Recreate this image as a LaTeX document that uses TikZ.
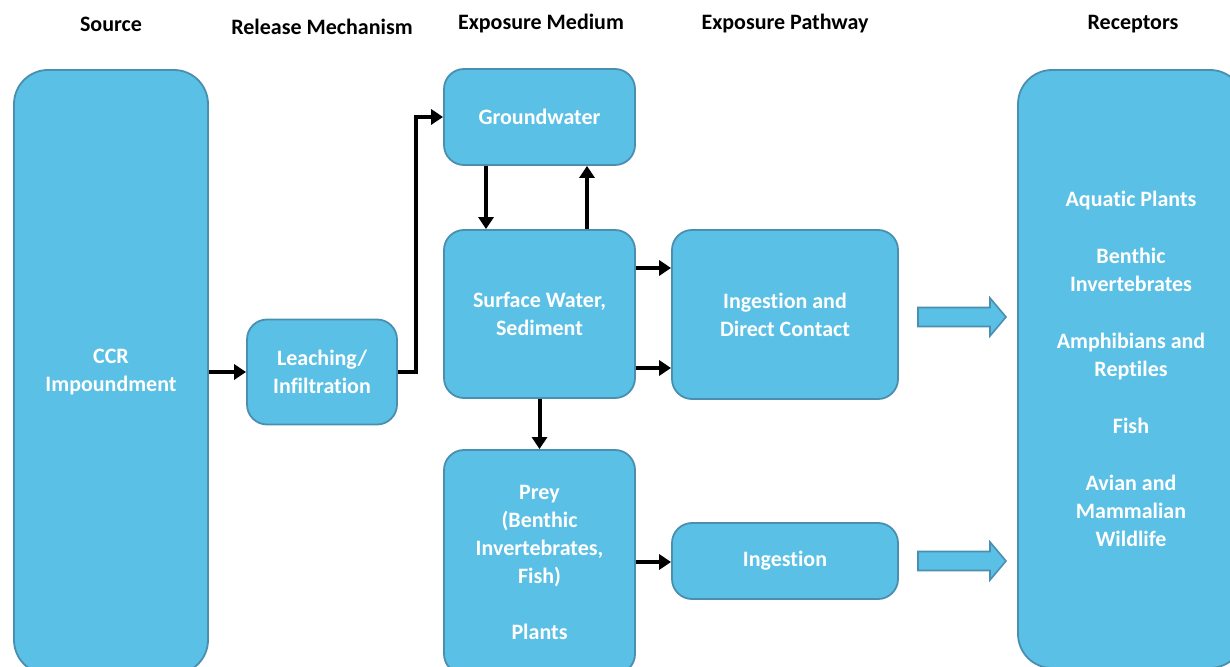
\documentclass[tikz,border=0pt]{standalone}
\usepackage{fontspec}
\setmainfont{Carlito}[Ligatures=NoCommon]
\usetikzlibrary{arrows.meta,calc}
\definecolor{boxfill}{HTML}{5BC0E5}
\definecolor{boxline}{HTML}{4A8FB0}
\begin{document}
\begin{tikzpicture}[x=0.5pt,y=-0.5pt,
  box/.style={draw=boxline, line width=0.9pt, fill=boxfill, rounded corners=10pt,
    text=white, font=\fontsize{11}{14}\selectfont\bfseries, align=center, inner sep=0pt},
  bigbox/.style={box, rounded corners=17pt},
  head/.style={font=\fontsize{11}{14}\selectfont\bfseries, text=black},
  arr/.style={line width=2pt, -{Triangle[length=6pt,width=7.5pt]}},
  blockarr/.style={draw=boxline, line width=0.8pt, fill=boxfill}]
\clip (0,0) rectangle (1230,667);
\useasboundingbox (0,0) rectangle (1230,667);
% headers
\node[head] (h1) at (111,24) {Source};
\node[head] (h2) at (322,27) {Release Mechanism};
\node[head] (h3) at (541,24) {Exposure Medium};
\node[head] (h4) at (785,24) {Exposure Pathway};
\node[head] (h5) at (1133,24) {Receptors};
% boxes
\node[bigbox, minimum width=97pt, minimum height=302pt] (src) at (111,372) {CCR\\Impoundment};
\node[box, minimum width=75pt, minimum height=52.5pt] (leach) at (322,372) {Leaching/\\Infiltration};
\node[box, minimum width=95.5pt, minimum height=48pt] (gw) at (539.5,117) {Groundwater};
\node[box, minimum width=95.5pt, minimum height=84pt] (sw) at (539.5,314) {Surface Water,\\Sediment};
\node[box, minimum width=95.5pt, minimum height=112pt] (prey) at (539.5,562) {Prey\\(Benthic\\Invertebrates,\\Fish)\\[14pt]Plants};
\node[box, minimum width=113pt, minimum height=84.5pt] (idc) at (785,314.5) {Ingestion and\\Direct Contact};
\node[box, minimum width=113pt, minimum height=38pt] (ing) at (785,561) {Ingestion};
\node[bigbox, minimum width=113pt, minimum height=299pt] (rec) at (1131,369)
  {Aquatic Plants\\[14.5pt]Benthic\\Invertebrates\\[14.5pt]Amphibians and\\Reptiles\\[14.5pt]Fish\\[14.5pt]Avian and\\Mammalian\\Wildlife};
% block arrows
\coordinate (ba1) at (918,317);
\coordinate (ba2) at (918,561);
\foreach \b in {ba1,ba2}{
  \draw[blockarr] ($(\b)+(0,-9.5)$) -- ++(72,0) -- ++(0,-9.5) -- ++(16,19) -- ++(-16,19) -- ++(0,-9.5) -- ++(-72,0) -- cycle;
}
% connectors
\draw[arr] (src.east |- leach.west) -- (leach.west);
\draw[arr] (leach.east) -- ++(18,0) |- (gw.west);
\draw[arr] ($(gw.south)+(-53.5,0)$) -- ($(sw.north)+(-53.5,0)$);
\draw[arr] ($(sw.north)+(47.5,0)$) -- ($(gw.south)+(47.5,0)$);
\draw[arr] ($(sw.east)+(0,-46)$) -- ($(idc.west)+(0,-46.5)$);
\draw[arr] ($(sw.east)+(0,54)$) -- ($(idc.west)+(0,53.5)$);
\draw[arr] (sw.south) -- (prey.north);
\draw[arr] (prey.east) -- (prey.east -| ing.west);
\end{tikzpicture}
\end{document}
